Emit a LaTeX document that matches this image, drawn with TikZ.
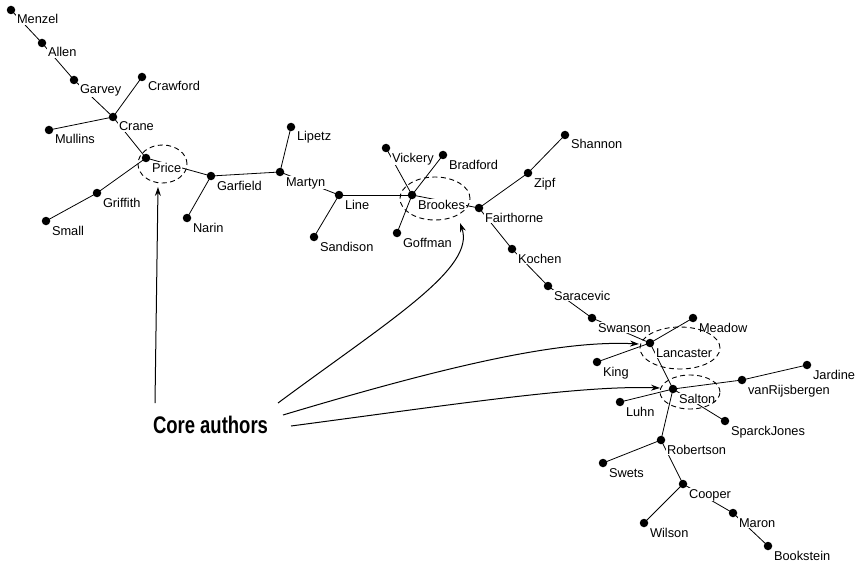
\documentclass[tikz,border=0pt]{standalone}
\usepackage{fontspec}
\setmainfont{Liberation Sans}
\usetikzlibrary{arrows.meta,shapes.geometric}

\tikzset{
  dot/.style={circle, fill=black, inner sep=0pt, minimum size=8.5pt},
  lab/.style={anchor=base west, fill=white, inner sep=0.8pt,
              font=\fontsize{12.8}{14}\selectfont},
  edge/.style={line width=0.8pt},
  ring/.style={ellipse, draw, dashed, line width=0.9pt,
               dash pattern=on 5pt off 3.5pt, inner sep=0pt},
  pointer/.style={line width=1pt, -{Stealth[length=9pt,width=6pt]}},
}

\begin{document}
\begin{tikzpicture}[x=1pt,y=-1pt]
\useasboundingbox (0,0) rectangle (858,564);
\fill[white] (0,0) rectangle (858,564);

% author positions
\foreach \n/\x/\y in {
  Menzel/11/10, Allen/42/43, Garvey/74/80, Crawford/142/77, Crane/113/117,
  Mullins/49/130, Price/146/158, Griffith/97/193, Small/46/221,
  Garfield/211/176, Narin/187/218, Martyn/280/172, Lipetz/291/127,
  Line/339/195, Sandison/314/237, Vickery/386/148, Bradford/443/155,
  Brookes/412/195, Goffman/397/233, Fairthorne/479/208, Zipf/528/173,
  Shannon/565/135, Kochen/512/249, Saracevic/548/286, Swanson/592/318,
  Meadow/693/318, Lancaster/650/343, King/597/362, Salton/673/389,
  vanRijsbergen/742/380, Jardine/807/365, Luhn/620/402,
  SparckJones/725/421, Robertson/661/440, Swets/603/463, Cooper/683/484,
  Wilson/644/523, Maron/733/513, Bookstein/768/546}
  {\coordinate (\n) at (\x,\y);}

% links of the map
\foreach \a/\b in {
  Menzel/Allen, Allen/Garvey, Garvey/Crane, Crawford/Crane, Mullins/Crane,
  Crane/Price, Price/Griffith, Griffith/Small, Price/Garfield,
  Garfield/Narin, Garfield/Martyn, Martyn/Lipetz, Martyn/Line,
  Line/Sandison, Line/Brookes, Brookes/Vickery, Brookes/Bradford,
  Brookes/Goffman, Brookes/Fairthorne, Fairthorne/Zipf, Zipf/Shannon,
  Fairthorne/Kochen, Kochen/Saracevic, Saracevic/Swanson,
  Swanson/Lancaster, Lancaster/Meadow, Lancaster/King, Lancaster/Salton,
  Salton/vanRijsbergen, vanRijsbergen/Jardine, Salton/Luhn,
  Salton/SparckJones, Salton/Robertson, Robertson/Swets,
  Robertson/Cooper, Cooper/Wilson, Cooper/Maron, Maron/Bookstein}
  {\draw[edge] (\a) -- (\b);}

% names
\foreach \n in {
  Menzel, Allen, Garvey, Crawford, Crane, Mullins, Price, Griffith, Small,
  Garfield, Narin, Martyn, Lipetz, Line, Sandison, Vickery, Bradford,
  Brookes, Goffman, Fairthorne, Zipf, Shannon, Kochen, Saracevic, Swanson,
  Meadow, Lancaster, King, Salton, vanRijsbergen, Jardine, Luhn,
  SparckJones, Robertson, Swets, Cooper, Wilson, Maron, Bookstein}
  {\node[lab] (\n-l) at ([shift={(5,14)}]\n) {\n};}

% dashed rings round the core authors
\node[ring, minimum width=49pt, minimum height=38pt] (priceRing) at (162.5,164) {};
\node[ring, minimum width=70pt, minimum height=43pt] (brookesRing) at (435,198.5) {};
\node[ring, minimum width=80pt, minimum height=42pt] (lancasterRing) at (680,348) {};
\node[ring, minimum width=60pt, minimum height=34pt] (saltonRing) at (690,392) {};

% dots on top
\foreach \n in {
  Menzel, Allen, Garvey, Crawford, Crane, Mullins, Price, Griffith, Small,
  Garfield, Narin, Martyn, Lipetz, Line, Sandison, Vickery, Bradford,
  Brookes, Goffman, Fairthorne, Zipf, Shannon, Kochen, Saracevic, Swanson,
  Meadow, Lancaster, King, Salton, vanRijsbergen, Jardine, Luhn,
  SparckJones, Robertson, Swets, Cooper, Wilson, Maron, Bookstein}
  {\node[dot] (\n-d) at (\n) {};}

% caption and pointers
\node[anchor=base, inner sep=0pt] (core) at (210.5,433)
  {\scalebox{0.77}[1]{\fontsize{24}{24}\selectfont\bfseries Core authors}};

\coordinate (pA) at (155,403);
\coordinate (pB) at (278,403);
\coordinate (pC) at (283,415);
\coordinate (pD) at (291,426);
\coordinate (tA) at (158,187);
\coordinate (tB) at (460,223);
\coordinate (tC) at (639,344);
\coordinate (tD) at (660,388);

\draw[pointer] (pA) -- (tA);
\draw[pointer] (pB) .. controls (390,320) and (476,268) .. (tB);
\draw[pointer] (pC) .. controls (450,365) and (560,340) .. (tC);
\draw[pointer] (pD) .. controls (450,405) and (580,385) .. (tD);
\end{tikzpicture}
\end{document}
